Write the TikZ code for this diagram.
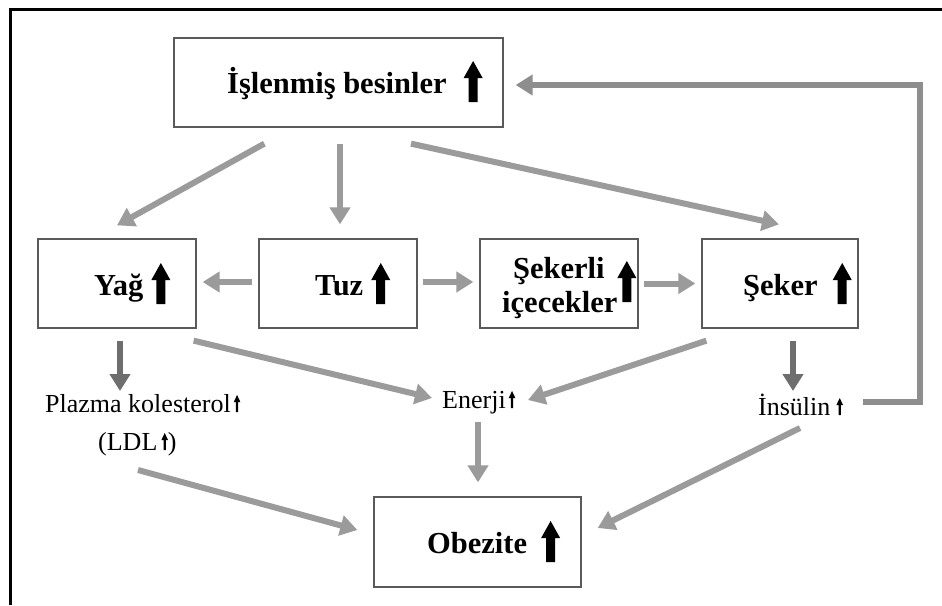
\documentclass[tikz,border=0pt]{standalone}
\usepackage{fontspec}
\setmainfont{Liberation Serif}
\usetikzlibrary{arrows.meta,calc}
\definecolor{garr}{HTML}{9B9B9B}
\definecolor{darr}{HTML}{6E6E6E}
\definecolor{fbk}{HTML}{8E8E8E}
\definecolor{boxc}{HTML}{5A5A5A}
\newcommand{\bigup}{\tikz[x=1pt,y=1pt,baseline=9pt]\fill[black] (-4.5,0) -- (-4.5,24) -- (-9.5,24) -- (0,41) -- (9.5,24) -- (4.5,24) -- (4.5,0) -- cycle;}
\newcommand{\smup}{\tikz[x=1pt,y=1pt,baseline=0pt]\fill[black] (-1.1,0) -- (-1.1,10) -- (-3.3,10) -- (0,17) -- (3.3,10) -- (1.1,10) -- (1.1,0) -- cycle;}
\begin{document}
\begin{tikzpicture}[x=1pt,y=-1pt,
  box/.style={draw=boxc,line width=1.3pt,inner sep=0pt,fill=white},
  bt/.style={font=\fontsize{30.5}{34}\selectfont\bfseries,inner sep=0pt,anchor=base west},
  lt/.style={font=\fontsize{26}{30}\selectfont,inner sep=0pt,anchor=base west},
  garrow/.style={draw=garr,line width=6pt,-{Triangle[width=20pt,length=17pt]}},
  darrow/.style={draw=darr,line width=6pt,-{Triangle[width=20pt,length=17pt]}},
  fbarrow/.style={draw=fbk,line width=6pt,-{Triangle[width=20pt,length=17pt]}}]
\useasboundingbox (0,0) rectangle (942,605);
\fill[white] (0,0) rectangle (942,605);
% frame (only top and left edges visible)
\draw[line width=2.5pt] (10.5,605) -- (10.5,9.5) -- (942,9.5);

% boxes
\node[box,minimum width=329pt,minimum height=89pt] (top) at (338.5,82.5) {};
\node[box,minimum width=158pt,minimum height=89pt] (yag) at (117,283.5) {};
\node[box,minimum width=158pt,minimum height=89pt] (tuz) at (338,283.5) {};
\node[box,minimum width=158pt,minimum height=89pt] (sek) at (559,283.5) {};
\node[box,minimum width=156pt,minimum height=89pt] (seker) at (780,283.5) {};
\node[box,minimum width=207pt,minimum height=90pt] (obez) at (477.5,542) {};

% box texts
\node[bt] (toptxt) at (227,93) {İşlenmiş besinler\hspace{17pt}\bigup};
\node[bt] (yagtxt) at (94,295) {Yağ\hspace{8pt}\bigup};
\node[bt] (tuztxt) at (315,295) {Tuz\hspace{8pt}\bigup};
\node[bt] (sektxtA) at (513,278) {Şekerli};
\node[bt] (sektxtB) at (502,312) {içecekler\raisebox{19pt}{\bigup}};
\node[bt] (sekertxt) at (743,295) {Şeker\hspace{15pt}\bigup};
\node[bt] (obeztxt) at (427,553) {Obezite\hspace{14pt}\bigup};

% plain labels
\node[lt] (plz) at (45,412) {Plazma kolesterol\hspace{3pt}\smup};
\node[lt] (ldl) at (98,450) {(LDL\hspace{4pt}\smup)};
\node[lt] (ener) at (442,408) {Enerji\hspace{3pt}\smup};
\node[lt] (ins) at (758,415) {İnsülin\hspace{6pt}\smup};

% connectors
\draw[garrow] ($(top.south west)+(91,16)$) -- ($(yag.north)+(0,-13)$);
\draw[garrow] ($(top.south)+(1.5,16)$) -- ($(tuz.north)+(2,-14)$);
\draw[garrow] ($(top.south)+(72.5,16)$) -- ($(seker.north)+(-1,-14)$);
\draw[garrow] ($(tuz.west)+(-6,-1.5)$) -- ($(yag.east)+(6,-1.5)$);
\draw[garrow] ($(tuz.east)+(5,-1.5)$) -- ($(sek.west)+(-6,-1.5)$);
\draw[garrow] ($(sek.east)+(5,0)$) -- ($(seker.west)+(-6,0)$);
\draw[darrow] ($(yag.south)+(3,12)$) -- ($(plz.base west)+(75,-21)$);
\draw[garrow] ($(yag.south east)+(-3,12)$) -- ($(ener.base west)+(-10,-10)$);
\draw[garrow] ($(seker.south west)+(5,12)$) -- ($(ener.base west)+(86,-8)$);
\draw[darrow] ($(seker.south)+(13,12)$) -- ($(ins.base west)+(35,-24)$);
\draw[garrow] ($(ldl.base west)+(40,20)$) -- ($(obez.west)+(-16,-12)$);
\draw[garrow] ($(ener.base west)+(36,14)$) -- ($(obez.north)+(0.5,-14)$);
\draw[garrow] ($(ins.base west)+(42,13)$) -- ($(obez.east)+(16,-14)$);
\draw[fbarrow] ($(ins.base west)+(105,-13)$) -- ++(57,0) |- ($(top.east)+(12,2.5)$);
\end{tikzpicture}
\end{document}
